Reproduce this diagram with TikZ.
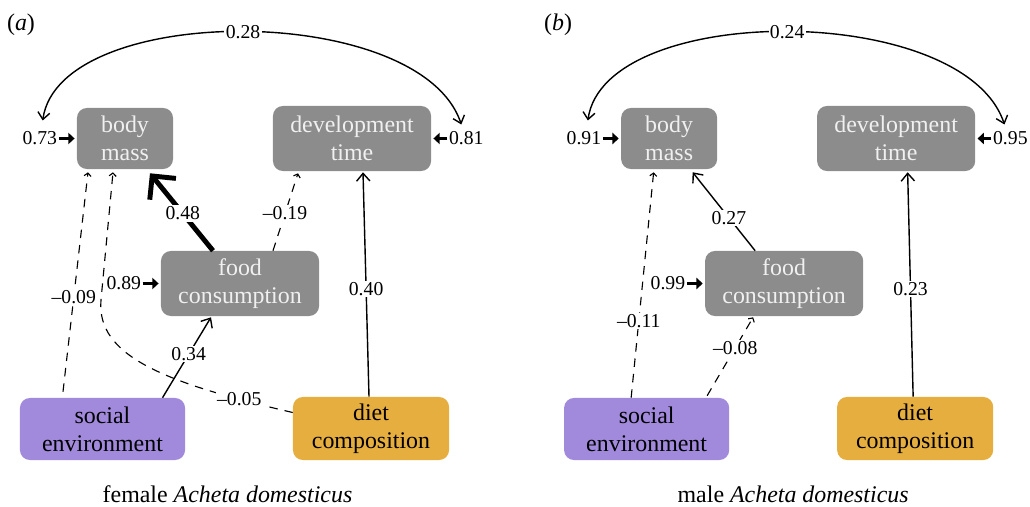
\documentclass[tikz,border=0pt]{standalone}
\usepackage{fontspec}
\setmainfont{Liberation Serif}
\newfontfamily\timesfont{Liberation Serif}
\usetikzlibrary{positioning,calc,arrows.meta}
\definecolor{boxgray}{RGB}{140,140,140}
\definecolor{socpurple}{RGB}{161,137,220}
\definecolor{dietorange}{RGB}{230,174,62}
\newcommand\boxfont{\timesfont\fontsize{17}{20}\selectfont}
\newcommand\lblfont{\timesfont\fontsize{14}{16}\selectfont}
\tikzset{
  varbox/.style={rectangle, rounded corners=7pt, fill=boxgray, text=white!94!black,
    align=center, font=\boxfont, inner sep=0pt, minimum width=3.95cm, minimum height=1.625cm},
  socbox/.style={varbox, fill=socpurple, text=black, minimum width=4.125cm, minimum height=1.55cm},
  dietbox/.style={varbox, fill=dietorange, text=black, minimum width=3.9cm, minimum height=1.575cm},
  lbl/.style={font=\lblfont, fill=white, inner sep=1pt},
  eff/.style={line width=1pt, -{Straight Barb[length=5.5pt,width=9.5pt]}},
  thickeff/.style={line width=3.5pt, -{Straight Barb[length=12pt,width=24pt]}},
  negeff/.style={line width=0.8pt, dash pattern=on 6pt off 5pt, -{Straight Barb[length=2.2pt,width=5pt]}},
  resid/.style={line width=2.6pt, shorten >=1.5pt, -{Triangle[length=4.5pt,width=8pt]}},
  cov/.style={line width=1pt, {Straight Barb[length=5pt,width=8.5pt]}-{Straight Barb[length=5pt,width=8.5pt]}}
}
\begin{document}
\begin{tikzpicture}[x=0.025cm,y=0.025cm]
  \useasboundingbox (0,0) rectangle (1030,506);
  % (a) female
  \node[font=\boxfont] (taga) at (21,481) {(\textit{a})};
  \node[varbox, minimum width=2.4cm, minimum height=1.525cm] (bma) at (125,367.5) {body\\mass};
  \node[varbox] (dta) at (352,367.5) {development\\time};
  \node[varbox] (fca) at (240,222.5) {food\\consumption};
  \node[socbox] (sea) at (102.5,77) {social\\environment};
  \node[dietbox] (dca) at (371,77.5) {diet\\composition};
  \node[font=\boxfont] (capa) at (227.5,12) {female \textit{Acheta domesticus}};
  \node[lbl, left=0.45cm of bma] (rbma) {0.73};
  \node[lbl, right=0.4cm of dta] (rdta) {0.81};
  \node[lbl, left=0.45cm of fca] (rfca) {0.89};
  \draw[resid] (rbma) -- (bma);
  \draw[resid] (rdta) -- (dta);
  \draw[resid] (rfca) -- (fca);
  \coordinate (cla) at ($(bma.west)+(-34,18)$);
  \coordinate (cra) at ($(dta.east)+(30,14)$);
  \draw[cov] (cla) .. controls +(17,119) and +(-41,123) .. node[lbl] {0.28} (cra);
  \draw[thickeff] ($(fca.north)+(-27,0)$) -- node[lbl,pos=.48] {0.48} ($(bma.south)+(25,-4)$);
  \draw[negeff] ($(fca.north)+(33,0)$) -- node[lbl,pos=.48] {–0.19} ($(dta.south)+(-54,-2)$);
  \draw[eff] ($(dca.north)+(-2,0)$) -- node[lbl,pos=.48] {0.40} ($(dta.south)+(11,-1)$);
  \draw[eff] ($(sea.north)+(60,0)$) -- node[lbl,pos=.54] {0.34} ($(fca.south)+(-29,-1)$);
  \draw[negeff] ($(sea.north)+(-39.5,6)$) -- node[lbl,pos=.43] {–0.09} ($(bma.south)+(-37,-3)$);
  \draw[negeff] ($(dca.west)+(0,16)$) .. controls (165,123) and (96,150) .. node[lbl,pos=.15] {–0.05} (101,206)
    -- ($(bma.south)+(-12,-3)$);
  % (b) male
  \begin{scope}[xshift=13.6cm]
    \node[font=\boxfont] (tagb) at (14,481) {(\textit{b})};
    \node[varbox, minimum width=2.4cm, minimum height=1.525cm] (bmb) at (125,367.5) {body\\mass};
    \node[varbox] (dtb) at (352,367.5) {development\\time};
    \node[varbox] (fcb) at (240,222.5) {food\\consumption};
    \node[socbox] (seb) at (102.5,77) {social\\environment};
    \node[dietbox] (dcb) at (371,77.5) {diet\\composition};
    \node[font=\boxfont] (capb) at (249,12) {male \textit{Acheta domesticus}};
    \node[lbl, left=0.45cm of bmb] (rbmb) {0.91};
    \node[lbl, right=0.4cm of dtb] (rdtb) {0.95};
    \node[lbl, left=0.45cm of fcb] (rfcb) {0.99};
    \draw[resid] (rbmb) -- (bmb);
    \draw[resid] (rdtb) -- (dtb);
    \draw[resid] (rfcb) -- (fcb);
    \coordinate (clb) at ($(bmb.west)+(-33,18)$);
    \coordinate (crb) at ($(dtb.east)+(29,14)$);
    \draw[cov] (clb) .. controls +(17,119) and +(-41,123) .. node[lbl] {0.24} (crb);
    \draw[eff] ($(fcb.north)+(-29,0)$) -- node[lbl,pos=.42] {0.27} ($(bmb.south)+(23.5,-3)$);
    \draw[negeff] ($(seb.north)+(-15.5,0)$) -- node[lbl,pos=.34] {–0.11} ($(bmb.south)+(-15.5,-3)$);
    \draw[negeff] ($(seb.north)+(60.5,2)$) -- node[lbl,pos=.61] {–0.08} ($(fcb.south)+(-31,-1)$);
    \draw[eff] ($(dcb.north)+(-2,0)$) -- node[lbl,pos=.48] {0.23} ($(dtb.south)+(11.5,-1)$);
  \end{scope}
\end{tikzpicture}
\end{document}
